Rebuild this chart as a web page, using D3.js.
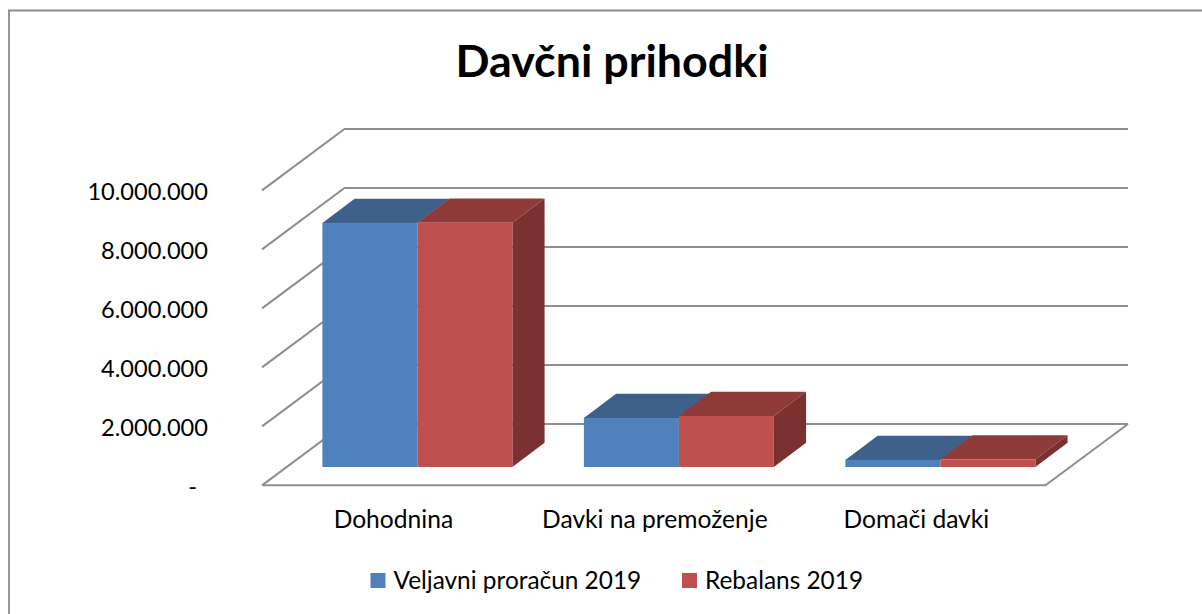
<!DOCTYPE html>
<html><head><meta charset="utf-8">
<script src="https://cdn.jsdelivr.net/npm/d3@7"></script>
<style>html,body{margin:0;padding:0;background:#fff}svg{display:block}text{font-family:Lato,"Open Sans",sans-serif;fill:#000}</style>
</head><body><svg id="c" width="1202" height="614"></svg>
<script>
const chartTitle = "Davčni prihodki";
const categories = ["Dohodnina", "Davki na premoženje", "Domači davki"];
const seriesNames = ["Veljavni proračun 2019", "Rebalans 2019"];
const veljavni = [8270000, 1660000, 240000];
const rebalans = [8280000, 1730000, 260000];
const tickValues = [0, 2000000, 4000000, 6000000, 8000000, 10000000];
const tickLabels = ["-", "2.000.000", "4.000.000", "6.000.000", "8.000.000", "10.000.000"];
const colors = ["#4F81BD", "#C0504D"];
const topColors = ["#3E618C", "#8E3A38"];
const sideColors = ["#355375", "#7A3130"];

const svg = d3.select("#c");
const W = 1202, H = 614;
// frame
svg.append("path").attr("d", `M9,${H}V10.5H${W}`).attr("fill","none").attr("stroke","#8a8a8a").attr("stroke-width",1.8);

const floor = {x0:262, x1:1045.5, y0:485.3, dx:82.5, dy:-61.3};
const y = d3.scaleLinear().domain([0,10000000]).range([floor.y0, 190.3]);
const grid = "#8f8f8f";
const g = svg.append("g").attr("fill","none").attr("stroke",grid).attr("stroke-width",2.1);
// walls
g.selectAll("path.wall").data(tickValues).join("path").attr("class","wall")
  .attr("d", v => `M${floor.x0},${y(v)}L${floor.x0+floor.dx},${y(v)+floor.dy}H${floor.x1+floor.dx}`);
// floor front
g.append("path").attr("d", `M${floor.x0},${y(0)}H${floor.x1}L${floor.x1+floor.dx},${y(0)+floor.dy}`);

// bars: sit part way into the floor depth
const insetY = 18.3, insetX = insetY/(-floor.dy)*floor.dx;
const depth = {dx:32.2, dy:-24.2};
const xCat = d3.scaleBand().domain(categories)
  .range([floor.x0+insetX, floor.x1+1+insetX]).paddingInner(0.2735).paddingOuter(0.1368);
const xSer = d3.scaleBand().domain(seriesNames).range([0, xCat.bandwidth()]);
const values = [veljavni, rebalans];
const bars = [];
seriesNames.forEach((s,si)=>categories.forEach((c,ci)=>bars.push({s,si,c,v:values[si][ci]})));
const yBar = v => y(v) - insetY;
const bg = svg.append("g");
const barG = bg.selectAll("g").data(bars).join("g");
barG.append("path").attr("fill", d=>topColors[d.si]).attr("d", d=>{
  const a=xCat(d.c)+xSer(d.s), b=a+xSer.bandwidth(), t=yBar(d.v);
  return `M${a},${t}L${a+depth.dx},${t+depth.dy}H${b+depth.dx}L${b},${t}Z`;});
barG.filter(d=>d.si===1).append("path").attr("fill", d=>sideColors[d.si]).attr("d", d=>{
  const b=xCat(d.c)+xSer(d.s)+xSer.bandwidth(), t=yBar(d.v), z=yBar(0);
  return `M${b},${t}L${b+depth.dx},${t+depth.dy}V${z+depth.dy}L${b},${z}Z`;});
barG.append("rect").attr("fill", d=>colors[d.si])
  .attr("x", d=>xCat(d.c)+xSer(d.s)).attr("width", xSer.bandwidth())
  .attr("y", d=>yBar(d.v)).attr("height", d=>yBar(0)-yBar(d.v));

// title
svg.append("text").attr("x",612).attr("y",77).attr("text-anchor","middle")
  .attr("font-size",44.8).attr("font-weight",700).text(chartTitle);

// y axis
const axis = d3.axisLeft(y).tickValues(tickValues).tickSize(0).tickPadding(0)
  .tickFormat((d,i)=>tickLabels[i]);
const ag = svg.append("g").attr("transform","translate(208,0)").call(axis);
ag.select(".domain").remove();
ag.selectAll("text").attr("font-size",23.6).attr("dy","0.4em").style("font-family",'Lato,"Open Sans",sans-serif');
ag.selectAll("text").filter(d=>d===0).attr("dx",-11);

// category labels
svg.append("g").selectAll("text").data(categories).join("text")
  .attr("x",(d)=>xCat(d)+xCat.bandwidth()/2-24).attr("y",528).attr("text-anchor","middle")
  .attr("font-size",24.6).text(d=>d);

// legend
const legX = [370.5, 682];
const lg = svg.append("g").selectAll("g").data(seriesNames).join("g")
  .attr("transform",(d,i)=>`translate(${legX[i]},573)`);
lg.append("rect").attr("width",15).attr("height",15).attr("fill",(d,i)=>colors[i]);
lg.append("text").attr("x",23).attr("y",16).attr("font-size",24.4).text(d=>d);
</script></body></html>
